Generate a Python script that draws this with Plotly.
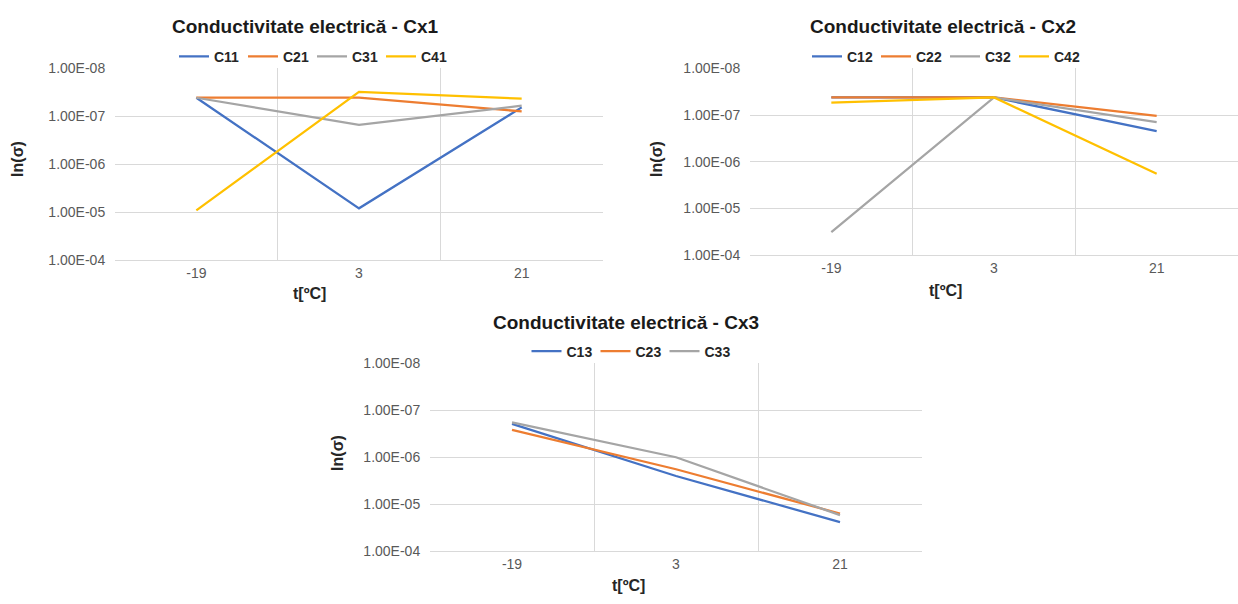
import plotly.graph_objects as go

W, H = 1238, 604

categories = ["-19", "3", "21"]
tick_vals = [1e-8, 1e-7, 1e-6, 1e-5, 1e-4]
tick_text = ["1.00E-08", "1.00E-07", "1.00E-06", "1.00E-05", "1.00E-04"]

# Cx1
c11 = [4.1e-8, 8.3e-6, 6.5e-8]
c21 = [4.1e-8, 4.1e-8, 7.9e-8]
c31 = [4.1e-8, 1.5e-7, 6.0e-8]
c41 = [9.2e-6, 3.1e-8, 4.3e-8]
# Cx2
c12 = [4.2e-8, 4.2e-8, 2.2e-7]
c22 = [4.2e-8, 4.2e-8, 1.04e-7]
c32 = [3.2e-5, 4.2e-8, 1.41e-7]
c42 = [5.4e-8, 4.2e-8, 1.8e-6]
# Cx3
c13 = [1.95e-7, 2.5e-6, 2.4e-5]
c23 = [2.6e-7, 1.8e-6, 1.58e-5]
c33 = [1.8e-7, 1.0e-6, 1.7e-5]

titles = ["Conductivitate electrică - Cx1", "Conductivitate electrică - Cx2", "Conductivitate electrică - Cx3"]
x_title = "t[ºC]"
y_title = "ln(σ)"
colors = ["#4472C4", "#ED7D31", "#A5A5A5", "#FFC000"]

FONT = "Liberation Sans, Arial, sans-serif"


def fx(x):
    return x / W


def fy(y):
    return 1 - y / H


panels = [
    dict(series=[("C11", c11), ("C21", c21), ("C31", c31), ("C41", c41)],
         box=(115, 62, 603, 259), xr=[-0.5, 2.5],
         title=(305, 19), legend=(312, 50), ytitle=(18, 155), xtitle=(309, 293)),
    dict(series=[("C12", c12), ("C22", c22), ("C32", c32), ("C42", c42)],
         box=(750, 62, 1238, 254), xr=[-0.5, 2.5],
         title=(943, 19), legend=(945, 50), ytitle=(657, 155), xtitle=(945, 290)),
    dict(series=[("C13", c13), ("C23", c23), ("C33", c33)],
         box=(430, 365, 922, 558), xr=[-0.5, 2.5],
         title=(626, 323), legend=(630, 353), ytitle=(338, 457), xtitle=(628, 593)),
]

fig = go.Figure()
annotations = []
layout = dict(
    width=W, height=H, autosize=False,
    margin=dict(l=0, r=0, t=0, b=0, pad=0),
    paper_bgcolor="white", plot_bgcolor="white",
    font=dict(family=FONT, color="#595959"),
)

for i, p in enumerate(panels):
    n = "" if i == 0 else str(i + 1)
    xa, ya = "x" + n, "y" + n
    lg = "legend" + n
    for j, (name, vals) in enumerate(p["series"]):
        fig.add_trace(go.Scatter(
            x=categories, y=vals, name=name, mode="lines",
            line=dict(color=colors[j], width=2.25),
            xaxis=xa, yaxis=ya, legend=lg,
        ))
    x0, y0, x1, y1 = p["box"]
    layout["xaxis" + n] = dict(
        domain=[fx(x0), fx(x1)], anchor=ya, type="category",
        range=p["xr"], tickson="boundaries", showgrid=True,
        gridcolor="#D9D9D9", gridwidth=1, showline=True, linecolor="#D9D9D9",
        ticks="outside", ticklen=5, tickcolor="rgba(0,0,0,0)",
        tickfont=dict(size=14, color="#595959"), zeroline=False,
    )
    layout["yaxis" + n] = dict(
        domain=[fy(y1), fy(y0)], anchor=xa, type="log",
        range=[-4, -8], tickvals=tick_vals, ticktext=tick_text,
        showgrid=True, gridcolor="#D9D9D9", gridwidth=1, showline=False,
        ticks="outside", ticklen=6, tickcolor="rgba(0,0,0,0)",
        tickfont=dict(size=14, color="#595959"), zeroline=False,
    )
    layout[lg] = dict(
        orientation="h", x=fx(p["legend"][0]), y=fy(p["legend"][1]),
        xanchor="center", yanchor="middle", xref="paper", yref="paper",
        font=dict(size=14, color="#262626", family=FONT, weight="bold"),
        bgcolor="rgba(0,0,0,0)", entrywidth=24, itemwidth=30,
    )
    annotations.append(dict(
        text="<b>%s</b>" % titles[i], x=fx(p["title"][0]), y=fy(p["title"][1]),
        xref="paper", yref="paper", showarrow=False, xanchor="center", yanchor="middle",
        font=dict(size=19, color="#1a1a1a", family=FONT),
    ))
    annotations.append(dict(
        text="<b>%s</b>" % x_title, x=fx(p["xtitle"][0]), y=fy(p["xtitle"][1]),
        xref="paper", yref="paper", showarrow=False, xanchor="center", yanchor="middle",
        font=dict(size=16, color="#262626", family=FONT),
    ))
    annotations.append(dict(
        text="<b>%s</b>" % y_title, x=fx(p["ytitle"][0]), y=fy(p["ytitle"][1]),
        xref="paper", yref="paper", showarrow=False, xanchor="center", yanchor="middle",
        textangle=-90, font=dict(size=16, color="#262626", family=FONT),
    ))

layout["annotations"] = annotations
layout["showlegend"] = True
fig.update_layout(**layout)

fig.write_html("out.html", config={"displayModeBar": False},
               post_script="document.body.style.margin='0';")
